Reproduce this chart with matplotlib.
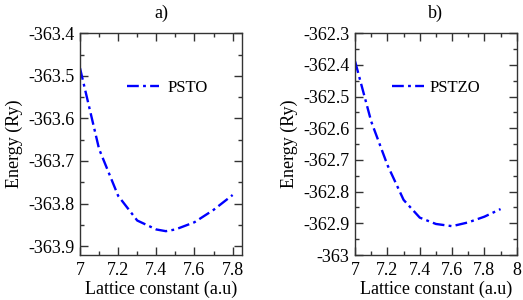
import matplotlib
matplotlib.use("Agg")
import matplotlib.pyplot as plt
from matplotlib.ticker import MultipleLocator, FuncFormatter

plt.rcParams["font.family"] = ["Liberation Serif", "DejaVu Serif"]
plt.rcParams["font.size"] = 13

# lattice constant (a.u) vs energy (Ry)
psto_a = [7.0, 7.1, 7.2, 7.3, 7.4, 7.45, 7.5, 7.6, 7.7, 7.8]
psto_e = [-363.482, -363.672, -363.782, -363.840, -363.861, -363.865,
          -363.861, -363.844, -363.815, -363.780]

pstzo_a = [7.0, 7.1, 7.2, 7.3, 7.4, 7.5, 7.6, 7.7, 7.8, 7.9]
pstzo_e = [-362.389, -362.579, -362.716, -362.826, -362.882, -362.902,
           -362.909, -362.897, -362.879, -362.855]

fmt = FuncFormatter(lambda v, p: f"{v:g}")


def style(ax, xlim, ylim):
    ax.set_xlim(*xlim)
    ax.set_ylim(*ylim)
    ax.xaxis.set_major_locator(MultipleLocator(0.2))
    ax.xaxis.set_minor_locator(MultipleLocator(0.1))
    ax.yaxis.set_major_locator(MultipleLocator(0.1))
    ax.yaxis.set_minor_locator(MultipleLocator(0.05))
    ax.xaxis.set_major_formatter(fmt)
    ax.yaxis.set_major_formatter(fmt)
    ax.tick_params(which="both", direction="in", top=True, right=True,
                   color="#333333", width=1.0)
    ax.tick_params(which="major", length=6, labelsize=13)
    ax.tick_params(axis="y", which="major", pad=4)
    ax.tick_params(axis="x", which="major", pad=5)
    ax.tick_params(which="minor", length=3)
    for s in ax.spines.values():
        s.set_linewidth(1.0)
        s.set_color("#333333")
    ax.set_xlabel("Lattice constant (a.u)", fontsize=13, labelpad=1)
    ax.set_ylabel("Energy (Ry)", fontsize=13, labelpad=4)


fig = plt.figure(figsize=(5.23, 3.0), dpi=100)
ax1 = fig.add_axes([0.153, 0.15, 0.310, 0.739])
ax2 = fig.add_axes([0.679, 0.15, 0.309, 0.739])

ls = (0, (5, 1.8, 1.2, 1.8))
ax1.plot(psto_a, psto_e, color="#0000ff", lw=1.7, linestyle=ls, label="PSTO")
ax2.plot(pstzo_a, pstzo_e, color="#0000ff", lw=1.7, linestyle=ls, label="PSTZO")

style(ax1, (7.0, 7.85), (-363.921, -363.4))
style(ax2, (7.0, 8.0), (-363.0, -362.3))

ax1.legend(loc="upper left", bbox_to_anchor=(0.2, 0.857), frameon=False,
           fontsize=12, handlelength=1.9, handletextpad=0.5)
ax2.legend(loc="upper left", bbox_to_anchor=(0.138, 0.857), frameon=False,
           fontsize=12, handlelength=1.9, handletextpad=0.3)

ax1.set_title("a)", fontsize=13, pad=11)
ax2.set_title("b)", fontsize=13, pad=11)

fig.savefig("out.png", dpi=100)
